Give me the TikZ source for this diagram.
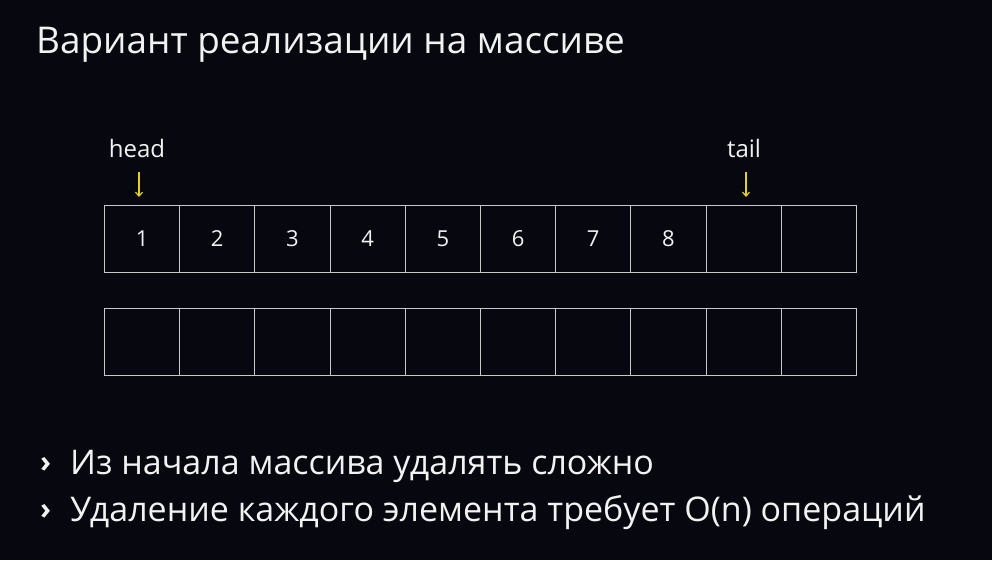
\documentclass[tikz,border=0pt]{standalone}
\usepackage{fontspec}
\setmainfont{Open Sans}
\usetikzlibrary{arrows.meta}
\definecolor{bg}{HTML}{07070F}
\definecolor{cellline}{HTML}{C8C8C8}
\definecolor{txt}{HTML}{F2F2F2}
\definecolor{ptr}{HTML}{E2D12A}
\tikzset{
  cell/.style={draw=cellline, line width=0.9pt, minimum width=75.2pt, minimum height=67pt, inner sep=0pt, anchor=north west, text=txt, font=\fontsize{22}{26}\selectfont},
  ptrlabel/.style={text=txt, font=\fontsize{24}{28}\selectfont, inner sep=0pt, anchor=base},
  ptrarrow/.style={draw=ptr, line width=1.2pt, -{Straight Barb[length=4pt,width=7pt]}},
  bigtext/.style={text=txt, inner sep=0pt, anchor=base west},
}
\begin{document}
\begin{tikzpicture}[x=1pt,y=-1pt]
\fill[bg] (0,0) rectangle (992,560);
\useasboundingbox (0,0) rectangle (992,560);
\node[bigtext, font=\fontsize{36.9}{42}\selectfont] (title) at (36,53) {Вариант реализации на массиве};
\foreach \i in {1,...,10}{
  \pgfmathsetmacro{\xx}{104+(\i-1)*75.2}
  \ifnum\i<9
    \node[cell] (a\i) at (\xx,205) {\i};
  \else
    \node[cell] (a\i) at (\xx,205) {};
  \fi
  \node[cell] (b\i) at (\xx,308) {};
}
\node[ptrlabel] (head) at (137,157) {head};
\node[ptrlabel] (tail) at (744,157) {tail};
\coordinate (hs) at (139,172);
\coordinate (he) at (139,197);
\coordinate (ts) at (746,172);
\coordinate (te) at (746,197);
\draw[ptrarrow] (hs) -- (he);
\draw[ptrarrow] (ts) -- (te);
\node[bigtext, font=\bfseries\fontsize{30}{34}\selectfont] (m1) at (40,472) {›};
\node[bigtext, font=\fontsize{34}{40}\selectfont] (l1) at (70,474) {Из начала массива удалять сложно};
\node[bigtext, font=\bfseries\fontsize{30}{34}\selectfont] (m2) at (40,519) {›};
\node[bigtext, font=\fontsize{34}{40}\selectfont] (l2) at (70,521) {Удаление каждого элемента требует O(n) операций};
\end{tikzpicture}
\end{document}
